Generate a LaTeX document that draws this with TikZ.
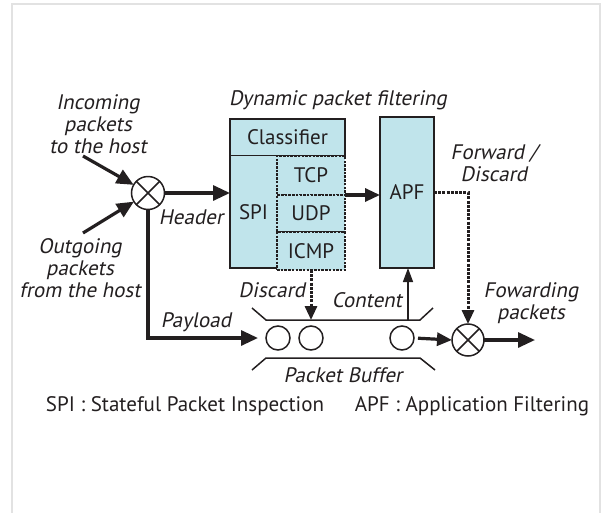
\documentclass[tikz,border=0pt]{standalone}
\usepackage{fontspec}
\setmainfont{PT Sans}
\newfontfamily\slfont[FakeSlant=0.2]{PT Sans}
\usetikzlibrary{arrows.meta}
\definecolor{boxfill}{RGB}{192,228,235}
\definecolor{ink}{RGB}{35,31,32}
\definecolor{framegray}{RGB}{226,226,226}
\begin{document}
\begin{tikzpicture}[x=1pt,y=-1pt,
  every node/.style={inner sep=0pt, outer sep=0pt},
  lbl/.style={font=\slfont\fontsize{21}{22}\selectfont, text=ink, align=center},
  word/.style={font=\fontsize{21}{22}\selectfont, text=ink},
  solidbox/.style={draw=ink, fill=boxfill, line width=1.6pt},
  subbox/.style={draw=ink, fill=boxfill, line width=2pt, dash pattern=on 2.5pt off 1.2pt},
  mixer/.style={circle, draw=ink, fill=white, line width=1.5pt, minimum size=33pt},
  pkt/.style={circle, draw=ink, line width=1.5pt, minimum size=24pt},
  bigarrow/.style={draw=ink, line width=3.2pt, -{Triangle[length=17pt,width=15pt]}},
  midarrow/.style={draw=ink, line width=3.2pt, -{Triangle[length=15pt,width=13pt]}},
  dasharrow/.style={draw=ink, line width=3pt, dash pattern=on 3pt off 1.2pt, -{Triangle[length=14pt,width=12pt]}},
  thinarrow/.style={draw=ink, line width=1.5pt, -{Triangle[length=14pt,width=10pt]}},
  bufline/.style={draw=ink, line width=1.5pt}
]
\useasboundingbox (0,0) rectangle (603,512);
% outer frame
\draw[framegray, line width=2pt] (12,4) rectangle (600,540);

% dynamic packet filtering blocks
\node[lbl] (title) at (338,100) {Dynamic packet filtering};
\node[solidbox, minimum width=115pt, minimum height=37pt] (cls) at (287.5,137.5) {};
\node[word] at (cls) {Classifier};
\node[fill=boxfill, minimum width=47pt, minimum height=112pt] (spi) at (253.5,212) {};
\draw[ink, line width=1.6pt] (spi.south east) -- (spi.south west) -- (spi.north west);
\node[word] at (spi) {SPI};
\node[subbox, minimum width=68pt, minimum height=39pt] (tcp) at (311,175.5) {};
\node[subbox, minimum width=68pt, minimum height=37pt] (udp) at (311,213.5) {};
\node[subbox, minimum width=68pt, minimum height=38pt] (icmp) at (311,251) {};
\node[word] at (tcp) {TCP};
\node[word] at (udp) {UDP};
\node[word] at (icmp) {ICMP};
\node[solidbox, minimum width=54pt, minimum height=151pt] (apf) at (407,192.5) {};
\node[word] at (apf) {APF};

% merging point of the two packet streams
\node[mixer] (mix) at (148,193) {};
\draw[ink, line width=1.5pt] (mix.north west) -- (mix.south east) (mix.north east) -- (mix.south west);
\node[lbl] (intxt) at (98,124) {Incoming\\packets\\to the host};
\node[lbl] (outtxt) at (80,268) {Outgoing\\packets\\from the host};
\coordinate (insrc) at (83,156);
\coordinate (outsrc) at (83,233);
\draw[bigarrow] (insrc) -- (mix);
\draw[bigarrow] (outsrc) -- (mix);

% header path
\draw[bigarrow] (mix.east) -- (mix.east -| spi.west);
\node[lbl] (hdr) at (191,217) {Header};
\draw[midarrow] (tcp.south east) -- (tcp.south east -| apf.west);

% packet buffer
\draw[bufline] (252,308) -- (266,320) -- (420,320) -- (433,308);
\draw[bufline] (252,370) -- (266,358) -- (420,358) -- (435,370);
\coordinate (bufD) at (311,320);
\coordinate (bufC) at (408,320);
\node[pkt] (pk1) at (278,338) {};
\node[pkt] (pk2) at (311,338) {};
\node[pkt] (pk3) at (402,338) {};
\node[lbl] (pbuf) at (343,375) {Packet Buffer};

% payload path
\draw[bigarrow] (mix.south) |- ([xshift=-8pt]pk1.west);
\node[lbl] (pay) at (196,322) {Payload};

% discard and content
\draw[dasharrow] (icmp.south) -- (bufD);
\node[lbl] (disc) at (272,290) {Discard};
\draw[thinarrow] (bufC) -- (bufC |- apf.south);
\node[lbl] (cont) at (367,300) {Content};

% forwarding stage
\node[mixer, minimum size=32pt] (fwdmix) at (468,340) {};
\draw[ink, line width=1.5pt] (fwdmix.north west) -- (fwdmix.south east) (fwdmix.north east) -- (fwdmix.south west);
\draw[dasharrow] (apf.east) -| (fwdmix.north);
\node[lbl] (fwd) at (494,163) {Forward /\\Discard};
\draw[midarrow, shorten <=4pt] (pk3.east) -- (fwdmix.west);
\coordinate (outdst) at (535,340);
\draw[bigarrow] (fwdmix.east) -- (outdst);
\node[lbl] (fwdpk) at (531,303) {Fowarding\\packets};

% legend
\node[word] (spidef) at (185,406) {SPI : Stateful Packet Inspection};
\node[word] (apfdef) at (472,406) {APF : Application Filtering};
\end{tikzpicture}
\end{document}
